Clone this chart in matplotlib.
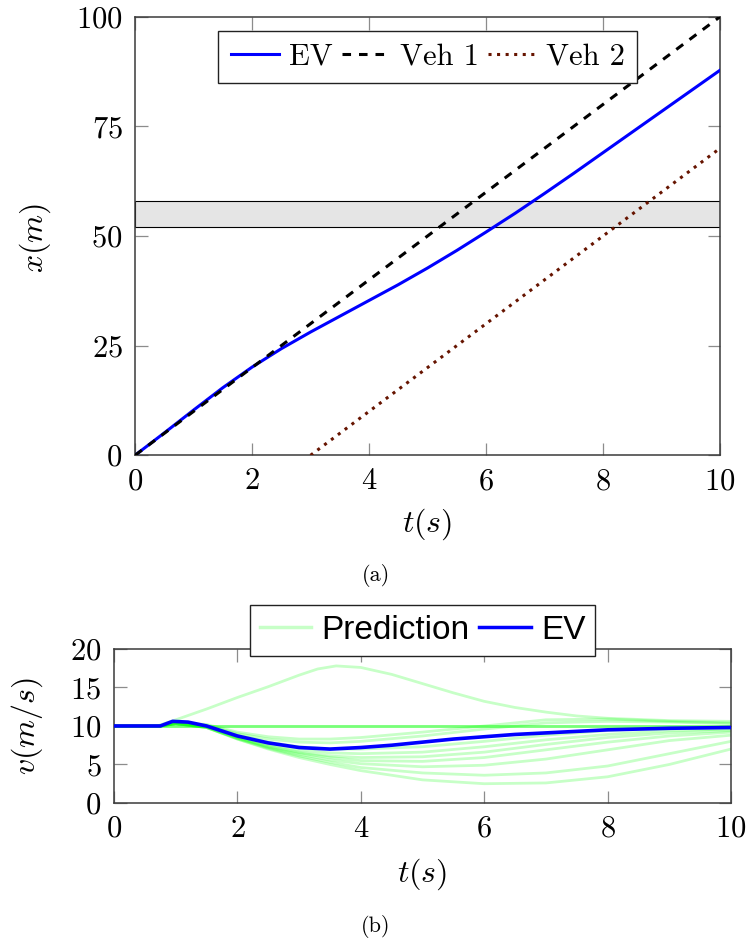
import numpy as np
import matplotlib
matplotlib.use("Agg")
import matplotlib.pyplot as plt

plt.rcParams['mathtext.fontset'] = 'cm'
plt.rcParams['font.family'] = 'cmr10'
plt.rcParams['axes.unicode_minus'] = False
plt.rcParams['axes.formatter.use_mathtext'] = True

# ---- (a) positions ----
t_ev = [0, 0.5, 1, 1.5, 2, 2.5, 3, 3.5, 4, 4.5, 5, 5.5, 6, 6.5, 7, 7.5, 8, 8.5, 9, 9.5, 10]
x_ev = [0, 5.1, 10.3, 15.4, 20.1, 24.3, 28.1, 31.7, 35.3, 38.9, 42.7, 46.7, 50.9, 55.2, 59.7,
        64.3, 69.0, 73.7, 78.4, 83.1, 87.8]
t_veh1 = [0, 10]
x_veh1 = [0, 100]
t_veh2 = [3.0, 10]
x_veh2 = [0, 70]
zone = [52, 58]

# ---- (b) velocities ----
t_v = [0, 0.75, 0.95, 1.2, 1.5, 2, 2.5, 3, 3.5, 4, 4.5, 5, 5.5, 6, 6.5, 7, 7.5, 8, 8.5, 9, 9.5, 10]
v_ev = [10, 10, 10.6, 10.5, 10.0, 8.7, 7.8, 7.2, 7.0, 7.2, 7.5, 7.9, 8.3, 8.6, 8.9, 9.1, 9.3,
        9.5, 9.6, 9.7, 9.75, 9.8]

t_up = [0, 0.7, 1, 1.5, 2, 2.5, 3, 3.3, 3.6, 4, 4.5, 5, 5.5, 6, 6.5, 7, 7.5, 8, 9, 10]
pred_up = [10, 10, 10.8, 12.2, 13.7, 15.1, 16.6, 17.4, 17.8, 17.6, 16.7, 15.5, 14.3, 13.2,
           12.4, 11.8, 11.3, 11.0, 10.7, 10.6]

t_p = [0, 0.75, 1, 1.5, 2, 2.5, 3, 3.5, 4, 5, 6, 7, 8, 9, 10]
pred_flat = [10, 10, 10, 10, 10, 10, 10, 10, 10, 10, 10, 10, 10, 10, 10]
pred_c = [10, 10, 10.4, 10.2, 9.2, 8.6, 8.3, 8.3, 8.5, 9.2, 10.0, 10.8, 10.9, 10.6, 10.4]
pred_d = [10, 10, 10.4, 10.1, 9.0, 8.3, 7.9, 7.8, 8.0, 8.7, 9.6, 10.4, 10.6, 10.5, 10.3]
pred_e = [10, 10, 10.4, 10.0, 8.8, 7.9, 7.3, 7.0, 7.0, 7.3, 8.0, 8.8, 9.4, 9.7, 9.8]
pred_f = [10, 10, 10.3, 9.9, 8.6, 7.6, 6.9, 6.5, 6.4, 6.6, 7.3, 8.2, 8.9, 9.4, 9.6]
pred_g = [10, 10, 10.3, 9.9, 8.5, 7.4, 6.6, 6.1, 5.9, 6.0, 6.6, 7.6, 8.5, 9.1, 9.4]
pred_h = [10, 10, 10.3, 9.8, 8.4, 7.3, 6.5, 5.9, 5.5, 5.4, 5.9, 6.9, 7.9, 8.7, 9.2]
pred_i = [10, 10, 10.3, 9.8, 8.4, 7.2, 6.3, 5.6, 5.1, 4.7, 4.9, 5.7, 6.9, 8.1, 8.8]
pred_j = [10, 10, 10.3, 9.8, 8.3, 7.1, 6.1, 5.3, 4.6, 3.9, 3.6, 3.9, 4.8, 6.4, 8.0]
pred_k = [10, 10, 10.3, 9.8, 8.3, 7.0, 5.9, 5.0, 4.2, 3.0, 2.5, 2.6, 3.4, 5.0, 7.0]
preds = [pred_flat, pred_flat, pred_flat, pred_c, pred_d, pred_e, pred_f,
         pred_g, pred_h, pred_i, pred_j, pred_k]

fig = plt.figure(figsize=(7.51, 9.43), dpi=100)
ax1 = fig.add_axes([0.1798, 0.5172, 0.7790, 0.4651])
ax2 = fig.add_axes([0.1518, 0.1485, 0.8216, 0.1633])

for ax in (ax1, ax2):
    ax.tick_params(direction='in', length=9, width=0.9, color='#8c8c8c',
                   top=True, right=True, labelsize=22, pad=9)
    for s in ax.spines.values():
        s.set_color('#3a3a3a')
        s.set_linewidth(1.1)

# top plot
ax1.axhspan(zone[0], zone[1], facecolor='#e5e5e5', edgecolor='black', lw=0.8, zorder=1)
ax1.plot(t_ev, x_ev, color='#0000ff', lw=2.2, label='EV', zorder=3)
ax1.plot(t_veh1, x_veh1, color='black', lw=2.2, ls=(0, (2.8, 2.6)), label='Veh 1', zorder=3)
ax1.plot(t_veh2, x_veh2, color='#661400', lw=2.2, ls=(0, (1, 1.8)), label='Veh 2', zorder=3)
ax1.set_xlim(0, 10)
ax1.set_ylim(0, 100)
ax1.set_xticks([0, 2, 4, 6, 8, 10])
ax1.set_yticks([0, 25, 50, 75, 100])
ax1.set_xlabel(r'$t(s)$', fontsize=23)
ax1.set_ylabel(r'$x(m)$', fontsize=23)
ax1.xaxis.set_label_coords(0.5, -0.117)
ax1.yaxis.set_label_coords(-0.140, 0.495)
ax1.xaxis.label.set_va('top')
leg1 = ax1.legend(loc='upper center', bbox_to_anchor=(0.5, 0.967), ncol=3, fontsize=22,
                  frameon=True, fancybox=False, edgecolor='#222222', framealpha=1,
                  handlelength=1.6, handletextpad=0.3, columnspacing=0.3,
                  borderpad=0.4, borderaxespad=0)
leg1.get_frame().set_linewidth(1.0)

# bottom plot
ax2.plot(t_up, pred_up, color='#00ff00', alpha=0.22, lw=2.0, label='Prediction', zorder=2)
for p in preds:
    ax2.plot(t_p, p, color='#00ff00', alpha=0.22, lw=2.0, zorder=2)
ax2.plot(t_v, v_ev, color='#0000ff', lw=2.6, label='EV', zorder=3)
ax2.set_xlim(0, 10)
ax2.set_ylim(0, 20)
ax2.set_xticks([0, 2, 4, 6, 8, 10])
ax2.set_yticks([0, 5, 10, 15, 20])
ax2.set_xlabel(r'$t(s)$', fontsize=23)
ax2.set_ylabel(r'$v(m/s)$', fontsize=23)
ax2.xaxis.set_label_coords(0.5, -0.345)
ax2.yaxis.set_label_coords(-0.112, 0.5)
ax2.xaxis.label.set_va('top')
leg2 = ax2.legend(loc='lower center', bbox_to_anchor=(0.5, 0.9545), ncol=2,
                  prop={'family': 'Liberation Sans', 'size': 24},
                  frameon=True, fancybox=False, edgecolor='#222222', framealpha=1,
                  handlelength=1.55, handletextpad=0.3, columnspacing=0.3,
                  borderpad=0.3, borderaxespad=0)
leg2.get_frame().set_linewidth(1.0)
for h in leg2.get_lines():
    h.set_linewidth(2.5)

fig.text(376 / 751, 1 - 575.5 / 943, '(a)', fontsize=16, ha='center', va='center')
fig.text(376 / 751, 1 - 926 / 943, '(b)', fontsize=16, ha='center', va='center')

fig.savefig('out.png', dpi=100)
